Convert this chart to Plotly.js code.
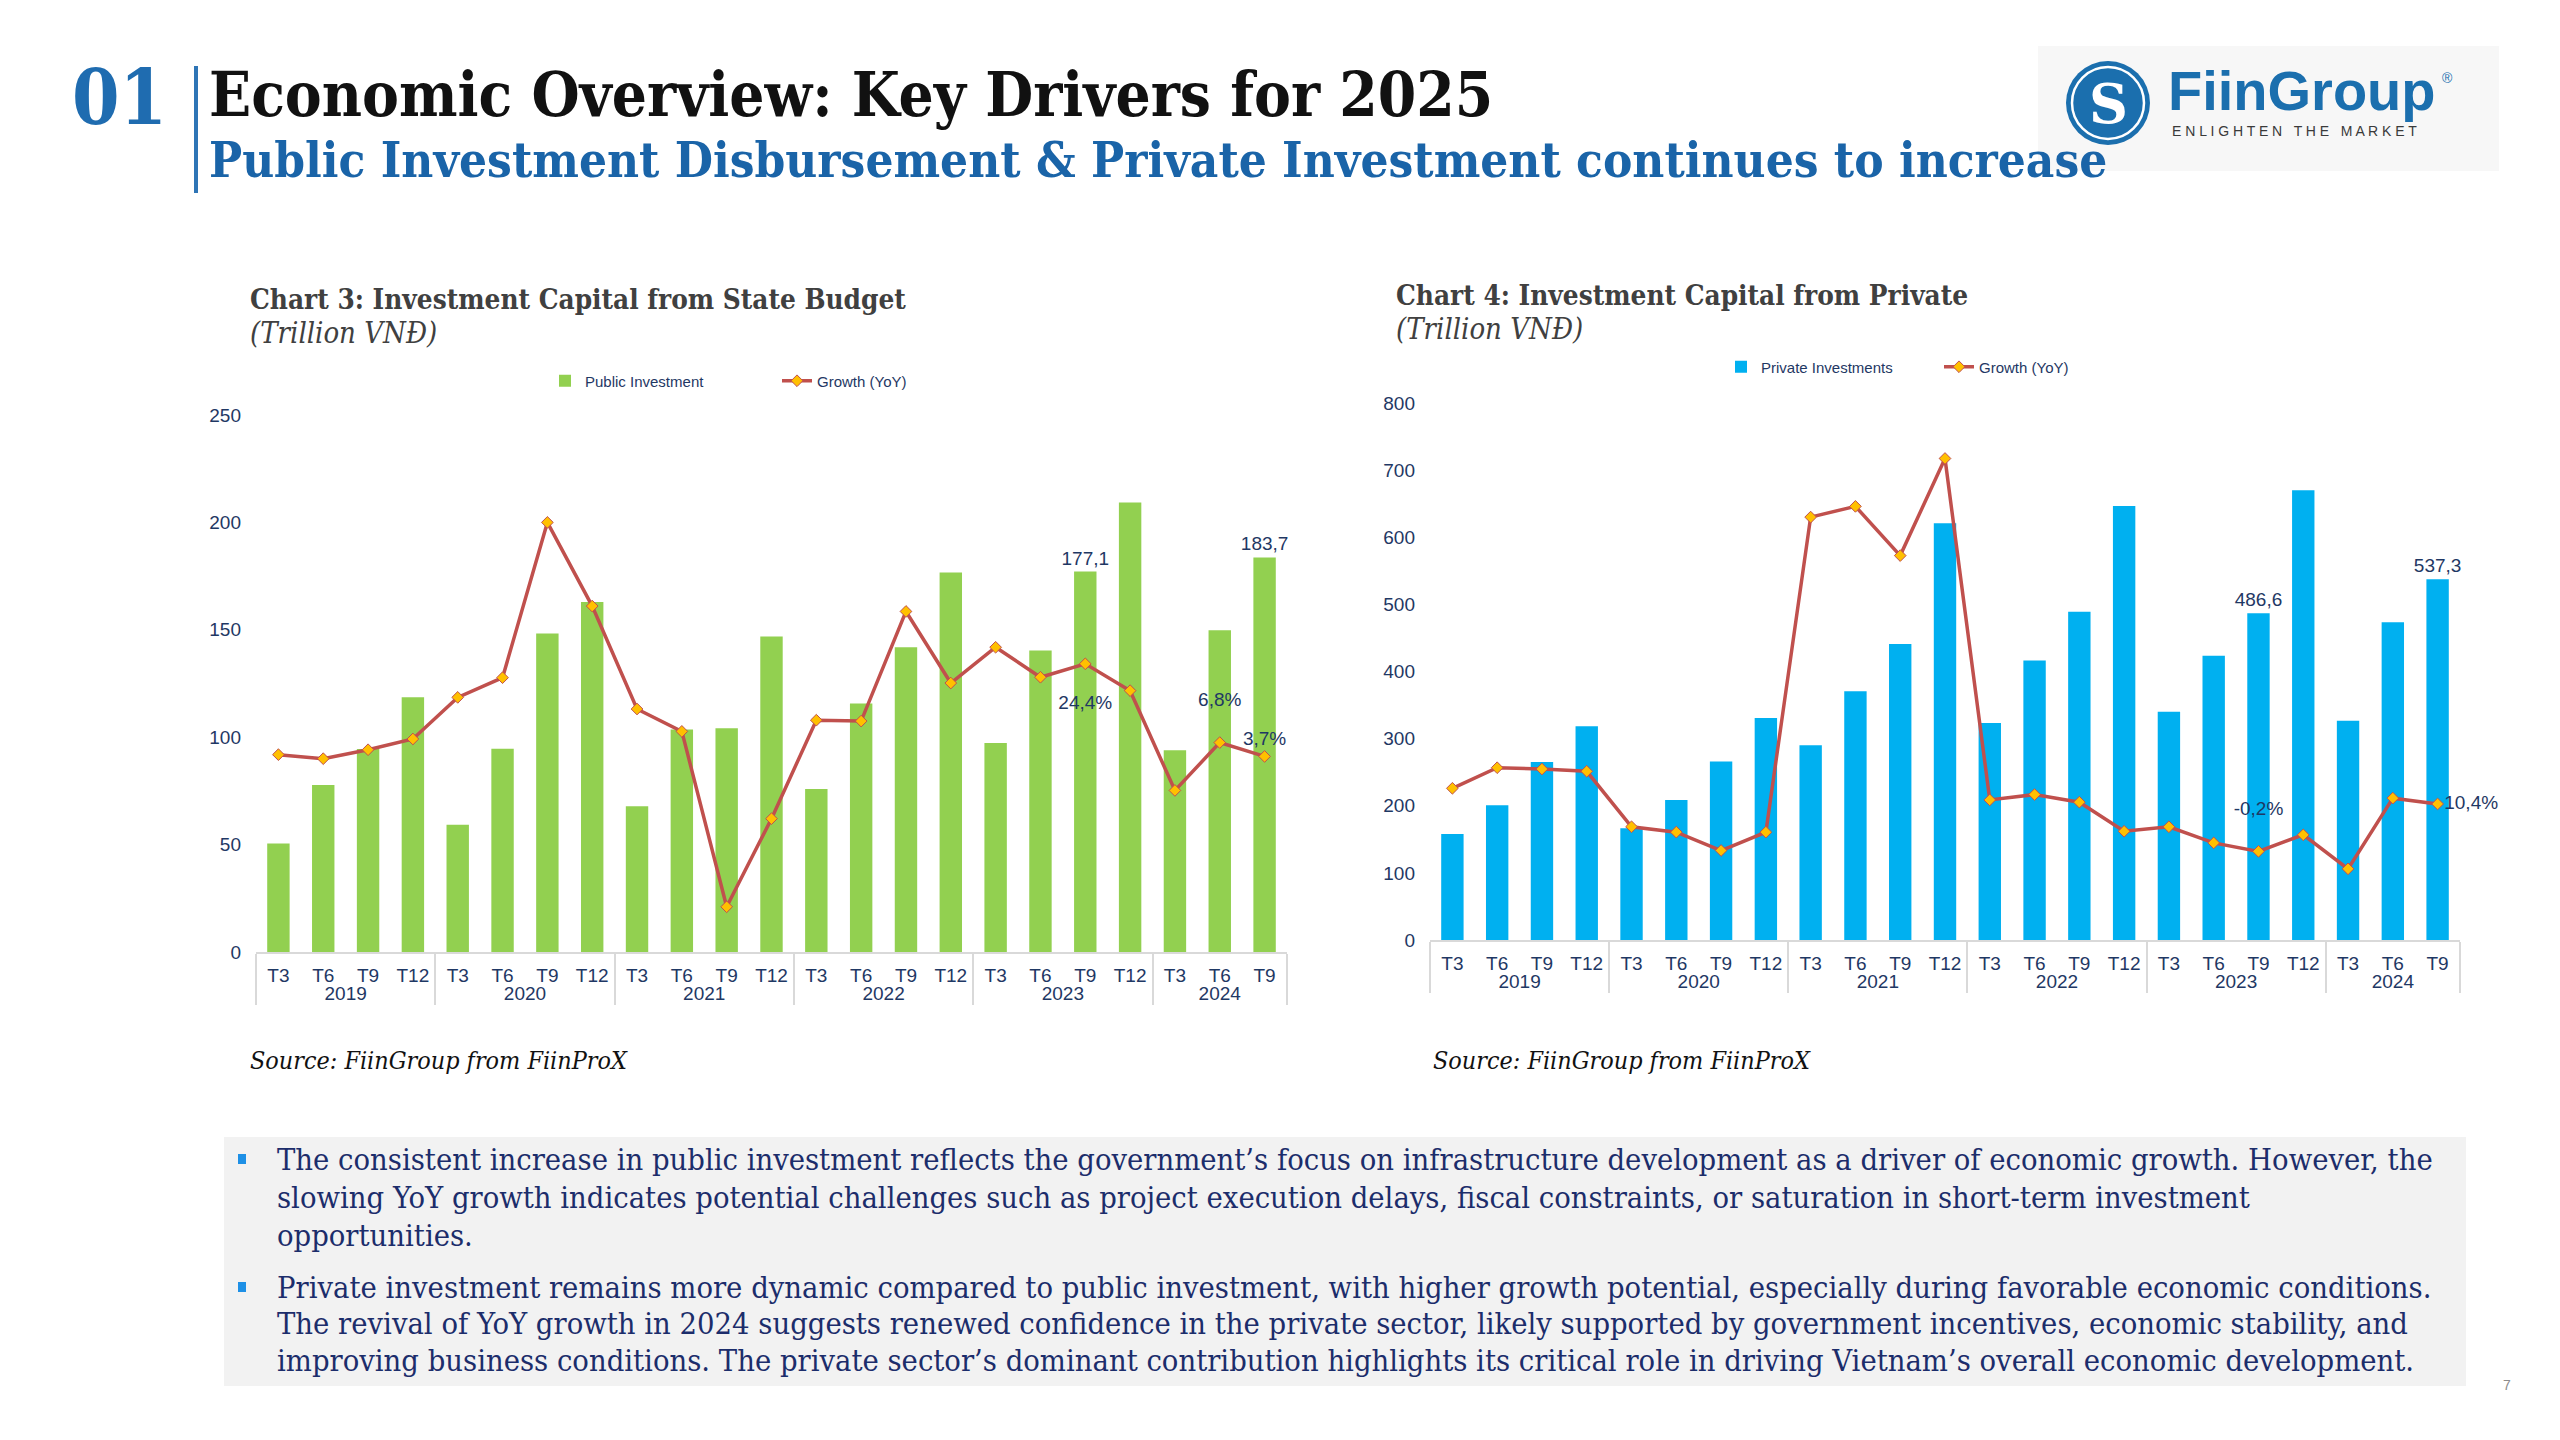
<!DOCTYPE html>
<html>
<head>
<meta charset="utf-8">
<script src="https://cdn.plot.ly/plotly-3.0.1.min.js"></script>
<style>html,body{margin:0;padding:0;background:#fff;}#chart{width:2560px;height:1440px;}</style>
</head>
<body>
<div id="chart"></div>
<script>
// ---------- data ----------
const years = ['2019','2019','2019','2019','2020','2020','2020','2020','2021','2021','2021','2021',
               '2022','2022','2022','2022','2023','2023','2023','2023','2024','2024','2024'];
const quarters = ['T3','T6','T9','T12','T3','T6','T9','T12','T3','T6','T9','T12',
                  'T3','T6','T9','T12','T3','T6','T9','T12','T3','T6','T9'];
const publicInv = [50.5, 77.7, 94.5, 118.6, 59.2, 94.6, 148.3, 163.0, 67.9, 103.6, 104.2, 146.9,
                   75.9, 115.7, 141.9, 176.7, 97.3, 140.4, 177.1, 209.3, 93.9, 149.8, 183.7];
const publicGrowth = [4.1, 3.2, 5.2, 7.6, 16.9, 21.3, 56.0, 37.3, 14.3, 9.3, -29.9, -10.2,
                      11.8, 11.6, 36.1, 20.1, 28.1, 21.4, 24.4, 18.4, -3.9, 6.8, 3.7];
const privateInv = [157.8, 200.7, 265.0, 318.4, 166.4, 208.7, 266.0, 330.8, 290.0, 370.7, 441.0, 620.8,
                    323.3, 416.4, 489.0, 646.6, 340.2, 423.5, 486.6, 670.0, 326.8, 473.3, 537.3];
const privateGrowth = [13.9, 18.5, 18.2, 17.7, 5.3, 4.1, 0.0, 4.1, 74.5, 76.9, 65.9, 87.6,
                       11.3, 12.5, 10.8, 4.3, 5.3, 1.7, -0.2, 3.5, -4.1, 11.7, 10.4];
// which points carry a data label (and where the label sits)
const publicBarLabels = [18, 22];
const publicGrowthLabels = {18: 'bottom-far', 21: 'top-far', 22: 'top'};
const privateBarLabels = [18, 22];
const privateGrowthLabels = {18: 'top-far', 22: 'right'};

const bullet1 = [
  'The consistent increase in public investment reflects the government\u2019s focus on infrastructure development as a driver of economic growth. However, the',
  'slowing YoY growth indicates potential challenges such as project execution delays, fiscal constraints, or saturation in short-term investment',
  'opportunities.'
];
const bullet2 = [
  'Private investment remains more dynamic compared to public investment, with higher growth potential, especially during favorable economic conditions.',
  'The revival of YoY growth in 2024 suggests renewed confidence in the private sector, likely supported by government incentives, economic stability, and',
  'improving business conditions. The private sector\u2019s dominant contribution highlights its critical role in driving Vietnam\u2019s overall economic development.'
];

// ---------- helpers ----------
const W = 2560, H = 1440;
const px = x => x / W;
const py = y => 1 - y / H;
const NAVY = '#1f3864';
const SANS = 'Liberation Sans, Arial, sans-serif';
const SERIF = 'DejaVu Serif Condensed, DejaVu Serif, serif';
const LINE = '#c0504d';

function barText(n, idx) { return Array.from({length: n}, (_, i) => idx.includes(i) ? '%{y:.1f}' : ''); }
function lineText(n, map) {
  return Array.from({length: n}, (_, i) => {
    if (!(i in map)) return '';
    const k = map[i];
    if (k === 'bottom-far') return '<br>%{y:.1f}%';
    if (k === 'top-far') return '%{y:.1f}%<br> ';
    return '%{y:.1f}%';
  });
}
function linePos(n, map) {
  const P = {'bottom-far': 'bottom center', 'top-far': 'top center', 'top': 'top center', 'right': 'middle right'};
  return Array.from({length: n}, (_, i) => (i in map) ? P[map[i]] : 'top center');
}

const xcat = [years, quarters];
const n = quarters.length;
const labelFont = {family: SANS, size: 19, color: NAVY};

const traces = [
  {type: 'bar', name: 'Public Investment', x: xcat, y: publicInv, xaxis: 'x', yaxis: 'y',
   marker: {color: '#92d050'}, texttemplate: barText(n, publicBarLabels), textposition: 'outside',
   constraintext: 'none', textfont: labelFont, cliponaxis: false, legend: 'legend', hoverinfo: 'skip'},
  {type: 'scatter', name: 'Growth (YoY)', x: xcat, y: publicGrowth, xaxis: 'x', yaxis: 'y3',
   mode: 'lines+markers+text', line: {color: LINE, width: 3.5},
   marker: {symbol: 'diamond', size: 9, color: '#ffc000', line: {color: LINE, width: 1}},
   texttemplate: lineText(n, publicGrowthLabels), textposition: linePos(n, publicGrowthLabels),
   textfont: labelFont, cliponaxis: false, legend: 'legend', hoverinfo: 'skip'},
  {type: 'bar', name: 'Private Investments', x: xcat, y: privateInv, xaxis: 'x2', yaxis: 'y2',
   marker: {color: '#00b0f0'}, texttemplate: barText(n, privateBarLabels), textposition: 'outside',
   constraintext: 'none', textfont: labelFont, cliponaxis: false, legend: 'legend2', hoverinfo: 'skip'},
  {type: 'scatter', name: 'Growth (YoY)', x: xcat, y: privateGrowth, xaxis: 'x2', yaxis: 'y4',
   mode: 'lines+markers+text', line: {color: LINE, width: 3.5},
   marker: {symbol: 'diamond', size: 9, color: '#ffc000', line: {color: LINE, width: 1}},
   texttemplate: lineText(n, privateGrowthLabels), textposition: linePos(n, privateGrowthLabels),
   textfont: labelFont, cliponaxis: false, legend: 'legend2', hoverinfo: 'skip'}
];

const xaxisBase = {
  type: 'multicategory', showline: true, linecolor: '#d9d9d9', linewidth: 2, ticks: '',
  showgrid: false, zeroline: false, showdividers: true, dividercolor: '#d9d9d9', dividerwidth: 2,
  tickfont: {family: SANS, size: 19, color: NAVY}, ticklabelstandoff: 5,
  range: [-0.5, quarters.length - 0.5], autorange: false, fixedrange: true
};
const yaxisBase = {
  showgrid: false, zeroline: false, showline: false, ticks: '',
  tickfont: {family: SANS, size: 19, color: NAVY}, ticklabelstandoff: 14, fixedrange: true
};

const annotations = [];
function ann(text, x, y, font, extra) {
  annotations.push(Object.assign({text: text, x: px(x), y: py(y), xref: 'paper', yref: 'paper',
    xanchor: 'left', yanchor: 'middle', showarrow: false, font: font}, extra || {}));
}
// header
ann('<b>01</b>', 70, 98, {family: SERIF, size: 76, color: '#1f6cb0'});
ann('<b>Economic Overview: Key Drivers for 2025</b>', 207, 95, {family: SERIF, size: 61.5, color: '#111111'});
ann('<b>Public Investment Disbursement &amp; Private Investment continues to increase</b>', 207, 160, {family: SERIF, size: 49, color: '#1a64a8'});
// logo text
ann('<b>S</b>', 2108, 104, {family: 'DejaVu Serif, serif', size: 54, color: '#ffffff'}, {xanchor: 'center'});
ann('<b>FiinGroup</b>', 2166, 90, {family: SANS, size: 56, color: '#1b6fae'});
ann('®', 2440, 78, {family: SANS, size: 14, color: '#1b6fae'});
ann('E N L I G H T E N&nbsp;&nbsp; T H E&nbsp;&nbsp; M A R K E T', 2170, 131, {family: SANS, size: 14, color: '#3a3a3a'});
// chart titles
ann('<b>Chart 3: Investment Capital from State Budget</b>', 248, 299, {family: SERIF, size: 27.7, color: '#404040'});
ann('<i>(Trillion VNĐ)</i>', 248, 333, {family: SERIF, size: 29, color: '#404040'});
ann('<b>Chart 4: Investment Capital from Private</b>', 1394, 296, {family: SERIF, size: 27.7, color: '#404040'});
ann('<i>(Trillion VNĐ)</i>', 1394, 329, {family: SERIF, size: 29, color: '#404040'});
// sources
ann('<i>Source: FiinGroup from FiinProX</i>', 248, 1060, {family: SERIF, size: 24.9, color: '#111111'});
ann('<i>Source: FiinGroup from FiinProX</i>', 1431, 1060, {family: SERIF, size: 24.9, color: '#111111'});
// bottom text
const bodyFont = {family: SERIF, size: 30.6, color: '#1c2d6b'};
[1159, 1197, 1235].forEach((y, i) => ann(bullet1[i], 275, y, bodyFont));
[1287, 1323, 1360].forEach((y, i) => ann(bullet2[i], 275, y, bodyFont));
// page number
ann('7', 2507, 1385, {family: SANS, size: 14, color: '#8c8c8c'}, {xanchor: 'center'});

const shapes = [
  {type: 'rect', xref: 'paper', yref: 'paper', x0: px(2038), x1: px(2499), y0: py(171), y1: py(46),
   fillcolor: '#f7f7f7', line: {width: 0}, layer: 'below'},
  {type: 'line', xref: 'paper', yref: 'paper', x0: px(196), x1: px(196), y0: py(193), y1: py(66),
   line: {color: '#2e75b6', width: 4}},
  {type: 'circle', xref: 'paper', yref: 'paper', x0: px(2066), x1: px(2150), y0: py(145), y1: py(61),
   fillcolor: '#1b6fae', line: {width: 0}},
  {type: 'circle', xref: 'paper', yref: 'paper', x0: px(2072), x1: px(2144), y0: py(139), y1: py(67),
   line: {color: '#ffffff', width: 2.5}},
  {type: 'rect', xref: 'paper', yref: 'paper', x0: px(224), x1: px(2466), y0: py(1386), y1: py(1137),
   fillcolor: '#f2f2f2', line: {width: 0}, layer: 'below'},
  {type: 'rect', xref: 'paper', yref: 'paper', x0: px(238), x1: px(246), y0: py(1164), y1: py(1154),
   fillcolor: '#1e90e6', line: {width: 0}},
  {type: 'rect', xref: 'paper', yref: 'paper', x0: px(238), x1: px(246), y0: py(1292), y1: py(1282),
   fillcolor: '#1e90e6', line: {width: 0}}
];

const layout = {
  width: W, height: H, margin: {l: 0, r: 0, t: 0, b: 0},
  paper_bgcolor: '#ffffff', plot_bgcolor: 'rgba(0,0,0,0)',
  separators: ',.', barmode: 'group', bargap: 0.5, showlegend: true,
  font: {family: SANS, color: NAVY},
  xaxis: Object.assign({}, xaxisBase, {domain: [px(256), px(1287)], anchor: 'y'}),
  yaxis: Object.assign({}, yaxisBase, {domain: [py(952), py(415)], range: [0, 250], dtick: 50, anchor: 'x'}),
  yaxis3: {overlaying: 'y', anchor: 'x', range: [-40, 80], visible: false, fixedrange: true},
  xaxis2: Object.assign({}, xaxisBase, {domain: [px(1430), px(2460)], anchor: 'y2'}),
  yaxis2: Object.assign({}, yaxisBase, {domain: [py(940), py(403)], range: [0, 800], dtick: 100, anchor: 'x2'}),
  yaxis4: {overlaying: 'y2', anchor: 'x2', range: [-20, 100], visible: false, fixedrange: true},
  legend: {orientation: 'h', x: px(545), y: py(381), xanchor: 'left', yanchor: 'middle',
           font: {family: SANS, size: 15, color: NAVY}, bgcolor: 'rgba(0,0,0,0)',
           entrywidth: 187, entrywidthmode: 'pixels', traceorder: 'normal'},
  legend2: {orientation: 'h', x: px(1721), y: py(367), xanchor: 'left', yanchor: 'middle',
           font: {family: SANS, size: 15, color: NAVY}, bgcolor: 'rgba(0,0,0,0)',
           entrywidth: 173, entrywidthmode: 'pixels', traceorder: 'normal'},
  annotations: annotations,
  shapes: shapes
};

Plotly.newPlot('chart', traces, layout, {staticPlot: true, displayModeBar: false});
</script>
</body>
</html>
